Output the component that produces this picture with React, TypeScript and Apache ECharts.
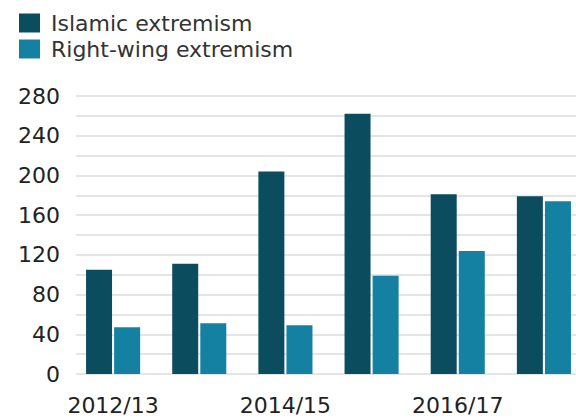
import React, { useEffect, useRef } from "react";
import * as echarts from "echarts";

const categories = ["2012/13", "2013/14", "2014/15", "2015/16", "2016/17", "2017/18"];
const islamic = [105, 111, 204, 262, 181, 179];
const rightWing = [47, 51, 49, 99, 124, 174];
const seriesNames = ["Islamic extremism", "Right-wing extremism"];

const FONT = "DejaVu Sans";

export default function App() {
  const ref = useRef<HTMLDivElement>(null);
  useEffect(() => {
    document.body.style.margin = "0";
    const chart = echarts.init(ref.current!, undefined, { renderer: "svg" });
    chart.setOption({
      animation: false,
      textStyle: { fontFamily: FONT },
      legend: {
        orient: "vertical",
        left: 14,
        top: 7,
        icon: "rect",
        itemWidth: 21,
        itemHeight: 19,
        itemGap: 4,
        textStyle: { fontSize: 22, color: "#333", fontFamily: FONT, padding: [0, 0, 0, 6] },
        data: seriesNames,
      },
      grid: [
        { left: 76, right: 0, top: 96, bottom: 44, outerBoundsMode: "none" },
        { left: 70, right: -11, top: 96, bottom: 44, outerBoundsMode: "none" },
      ],
      xAxis: [
        {
          gridIndex: 0,
          type: "category",
          data: categories,
          show: false,
        },
        {
          gridIndex: 1,
          type: "category",
          data: categories,
          axisLine: { show: false },
          axisTick: { show: false },
          axisLabel: { interval: 1, fontSize: 22, color: "#222", margin: 20, fontFamily: FONT },
        },
      ],
      yAxis: [
        {
          gridIndex: 0,
          type: "value",
          min: 0,
          max: 280,
          interval: 20,
          axisLine: { show: false },
          axisTick: { show: false },
          splitLine: { lineStyle: { color: "#dcdcdc", width: 1.5 } },
          axisLabel: {
            fontSize: 22,
            color: "#222",
            margin: 16,
            fontFamily: FONT,
            formatter: (v: number) => (v % 40 === 0 ? String(v) : ""),
          },
        },
        {
          gridIndex: 1,
          type: "value",
          min: 0,
          max: 280,
          interval: 20,
          show: false,
          splitLine: { show: false },
        },
      ],
      series: [
        {
          name: seriesNames[0],
          type: "bar",
          xAxisIndex: 1,
          yAxisIndex: 1,
          data: islamic,
          itemStyle: { color: "#0c4c5f" },
          barWidth: 26,
          barGap: "8%",
        },
        {
          name: seriesNames[1],
          type: "bar",
          xAxisIndex: 1,
          yAxisIndex: 1,
          data: rightWing,
          itemStyle: { color: "#1581a2" },
          barWidth: 26,
        },
      ],
    });
    return () => chart.dispose();
  }, []);
  return <div ref={ref} style={{ width: 576, height: 418 }} />;
}
